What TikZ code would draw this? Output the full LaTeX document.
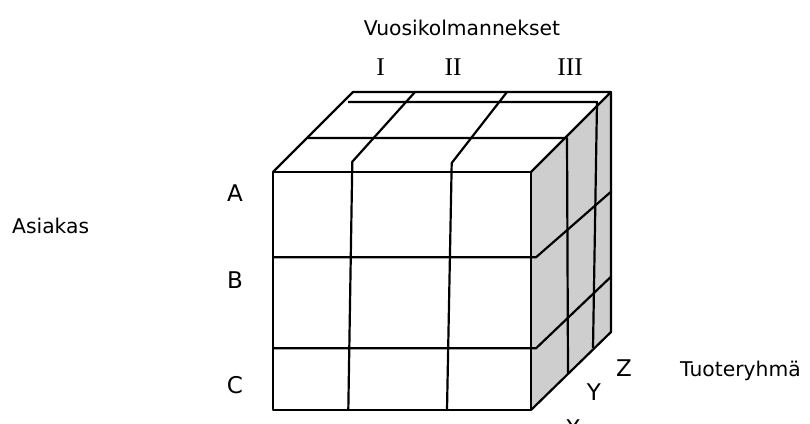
\documentclass[tikz,border=0pt]{standalone}
\usepackage{fontspec}
\setmainfont{DejaVu Sans}
\newfontfamily\romanfont{Liberation Serif}
\definecolor{sidegray}{RGB}{206,206,206}
\tikzset{
  edge/.style={line width=2.2pt, line join=round},
  word/.style={inner sep=0pt, font=\fontsize{20.3}{24}\selectfont},
  letter/.style={inner sep=0pt, anchor=base, font=\fontsize{23}{27}\selectfont},
  roman/.style={inner sep=0pt, anchor=base, font=\romanfont\fontsize{25.5}{30}\selectfont}
}
\begin{document}
\begin{tikzpicture}[x=1pt,y=-1pt]
\useasboundingbox (0,0) rectangle (810,423);
% side face
\fill[sidegray] (531,172) -- (611,92) -- (611,332) -- (531,410) -- cycle;
% front face
\draw[edge] (273,172) rectangle (531,410);
% top face outline
\draw[edge] (273,172) -- (353,92) -- (611,92) -- (531,172);
% side back edge
\draw[edge] (611,92) -- (611,332) -- (531,410);
% top face depth lines continuing down the side
\draw[edge] (308,138) -- (567,138) -- (568,373);
\draw[edge] (348,102) -- (597,102) -- (593,348);
% column dividers
\draw[edge] (415,92) -- (352.3,161.7) -- (348.3,410);
\draw[edge] (507,92) -- (451.7,163) -- (447,410);
% row dividers continuing onto the side
\draw[edge] (273,257.3) -- (536,257.3) -- (611,191.7);
\draw[edge] (273,348.3) -- (536,348.3) -- (611,276.7);
% labels
\node[word, anchor=base] (title) at (462,35) {Vuosikolmannekset};
\node[roman] (q1) at (380.5,75) {I};
\node[roman] (q2) at (453,75) {II};
\node[roman] (q3) at (570,75) {III};
\node[letter] (la) at (235,201.5) {A};
\node[letter] (lb) at (235,288.5) {B};
\node[letter] (lc) at (235,393) {C};
\node[word, anchor=base west] (asiakas) at (12,233) {Asiakas};
\node[letter] (lz) at (624,376) {Z};
\node[letter] (ly) at (594,400) {Y};
\node[letter] (lx) at (573,436) {X};
\node[word, anchor=base west] (tuote) at (680,376) {Tuoteryhmä};
\end{tikzpicture}
\end{document}
